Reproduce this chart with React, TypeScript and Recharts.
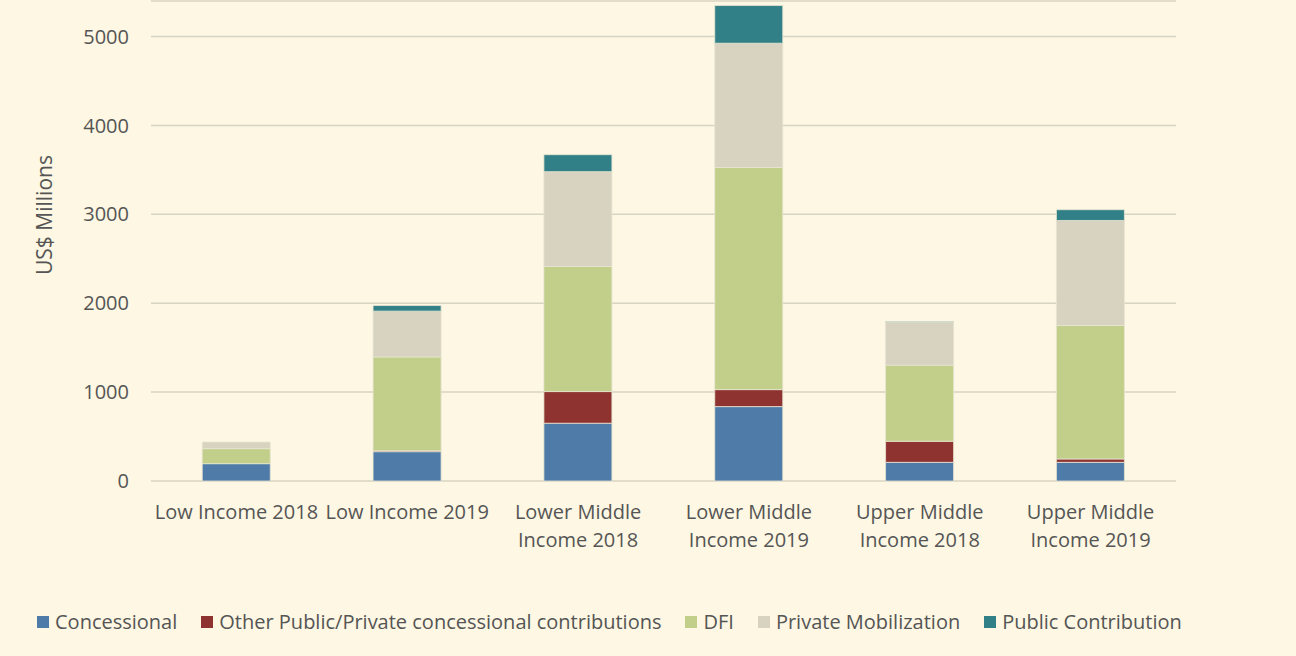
import { BarChart, Bar, XAxis, YAxis, CartesianGrid, Legend } from 'recharts'

const categories = [
  'Low Income 2018',
  'Low Income 2019',
  'Lower Middle Income 2018',
  'Lower Middle Income 2019',
  'Upper Middle Income 2018',
  'Upper Middle Income 2019',
]

// tick labels as they wrap under each bar
const tickLines = [
  ['Low Income 2018'],
  ['Low Income 2019'],
  ['Lower Middle', 'Income 2018'],
  ['Lower Middle', 'Income 2019'],
  ['Upper Middle', 'Income 2018'],
  ['Upper Middle', 'Income 2019'],
]

const concessional = [195, 330, 650, 837, 210, 210]
const otherConcessional = [0, 10, 356, 191, 237, 38]
const dfi = [169, 1056, 1407, 2500, 856, 1501]
const privateMobilization = [75, 515, 1067, 1397, 480, 1182]
const publicContribution = [0, 63, 191, 424, 12, 121]

const yTicks = [0, 1000, 2000, 3000, 4000, 5000]

const SERIES = [
  { key: 'concessional', name: 'Concessional', color: '#4E7BA7' },
  { key: 'other', name: 'Other Public/Private concessional contributions', color: '#8F3330' },
  { key: 'dfi', name: 'DFI', color: '#C1CF8A' },
  { key: 'private', name: 'Private Mobilization', color: '#D7D3C0' },
  { key: 'public', name: 'Public Contribution', color: '#318087' },
]

const data = categories.map((name, i) => ({
  name,
  concessional: concessional[i],
  other: otherConcessional[i],
  dfi: dfi[i],
  private: privateMobilization[i],
  public: publicContribution[i],
}))

const BG = '#FDF7E3'
const TEXT = '#555555'
const FONT = '"Open Sans", sans-serif'

function CategoryTick({ x, y, payload }: any) {
  const lines = tickLines[payload.index] || [payload.value]
  return (
    <text x={x} y={y} textAnchor="middle" fill={TEXT} fontSize={20} fontFamily={FONT}>
      {lines.map((line: string, i: number) => (
        <tspan key={i} x={x} dy={i === 0 ? 36 : 28}>
          {line}
        </tspan>
      ))}
    </text>
  )
}

function AxisTitle({ viewBox }: any) {
  const cx = viewBox.x + 44
  const cy = viewBox.y + viewBox.height / 2 - 26
  return (
    <text
      x={cx}
      y={cy}
      transform={`rotate(-90, ${cx}, ${cy})`}
      textAnchor="middle"
      dominantBaseline="central"
      fill={TEXT}
      fontSize={21}
      fontFamily={FONT}
    >
      US$ Millions
    </text>
  )
}

function LegendContent() {
  return (
    <div style={{ display: 'flex', alignItems: 'center', fontFamily: FONT, fontSize: 20, color: TEXT }}>
      {SERIES.map((s) => (
        <div key={s.key} style={{ display: 'flex', alignItems: 'center', marginRight: 24 }}>
          <span style={{ width: 12, height: 12, background: s.color, display: 'inline-block', marginRight: 6 }} />
          <span>{s.name}</span>
        </div>
      ))}
    </div>
  )
}

export default function App() {
  return (
    <div style={{ position: 'absolute', left: 0, top: 0, width: 1296, height: 656, background: BG }}>
      <BarChart
        width={1296}
        height={656}
        data={data}
        margin={{ top: 1, right: 120, bottom: 0, left: 0 }}
        barCategoryGap="30%"
      >
        <CartesianGrid vertical={false} stroke="#D8D4C3" strokeWidth={1.5} />
        <XAxis
          dataKey="name"
          axisLine={false}
          tickLine={false}
          tickSize={0}
          height={175}
          interval={0}
          tick={<CategoryTick />}
        />
        <YAxis
          domain={[0, 5400]}
          ticks={yTicks}
          axisLine={false}
          tickLine={false}
          tickSize={0}
          tickMargin={22}
          width={151}
          tick={{ fill: TEXT, fontSize: 20, fontFamily: FONT }}
          label={<AxisTitle />}
        />
        {SERIES.map((s) => (
          <Bar
            key={s.key}
            dataKey={s.key}
            name={s.name}
            stackId="total"
            fill={s.color}
            stroke="#E9E5D2"
            strokeWidth={0.8}
            isAnimationActive={false}
          />
        ))}
        <Legend
          layout="horizontal"
          verticalAlign="middle"
          align="center"
          content={<LegendContent />}
          wrapperStyle={{ top: 608, left: 37, width: 'auto' }}
        />
      </BarChart>
    </div>
  )
}
